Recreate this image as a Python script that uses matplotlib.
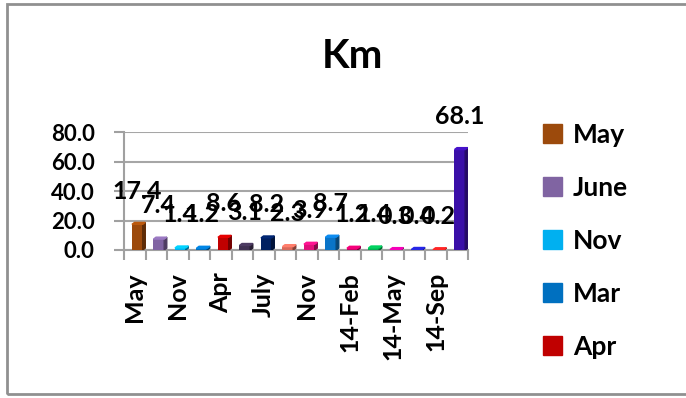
import matplotlib
matplotlib.use("Agg")
import matplotlib.pyplot as plt
from matplotlib.patches import Rectangle, Polygon
import numpy as np

plt.rcParams['font.family'] = ['Lato', 'DejaVu Sans']
plt.rcParams['font.weight'] = 'bold'

# data
months = ["May", "June", "Nov", "Mar", "Apr", "June", "July", "Aug",
          "Nov", "Dec", "14-Feb", "14-Mar", "14-May", "14-Jun", "14-Sep", "14-Oct"]
km = [17.4, 7.4, 1.4, 1.2, 8.6, 3.1, 8.2, 2.3, 3.9, 8.7, 1.2, 1.4, 0.3, 0.4, 0.2, 68.1]
colors = ["#9C4A0C", "#8064A2", "#00B0F0", "#0070C0", "#C00000", "#403152",
          "#002060", "#D9695A", "#E0107A", "#0A74C8", "#CC0066", "#00B050",
          "#CC0099", "#2020C0", "#FF2020", "#3A0FA8"]
legend_n = 5  # only first five entries fit in the legend box
yticks = [0, 20, 40, 60, 80]

W, H = 686, 398
fig = plt.figure(figsize=(W / 100, H / 100), dpi=100)
ax = fig.add_axes([124 / W, 1 - 250 / H, (468 - 124) / W, (250 - 132) / H])

x = np.arange(len(km))
bw = 0.5
bars = ax.bar(x + 0.12, km, width=bw, color=colors, zorder=3)

# fake 3d: darker right side + top cap
dx, dy = 0.12, 1.3
for b, c in zip(bars, colors):
    x0, w, h = b.get_x(), b.get_width(), b.get_height()
    rgb = np.array(matplotlib.colors.to_rgb(c))
    side = Polygon([(x0 + w, 0), (x0 + w + dx, dy), (x0 + w + dx, h + dy), (x0 + w, h)],
                   closed=True, color=rgb * 0.6, zorder=3)
    top = Polygon([(x0, h), (x0 + dx, h + dy), (x0 + w + dx, h + dy), (x0 + w, h)],
                  closed=True, color=np.clip(rgb * 1.2, 0, 1), zorder=3)
    ax.add_patch(side)
    ax.add_patch(top)

for xi, v in zip(x, km):
    ax.annotate(f"{v:.1f}", (xi + 0.12, v), xytext=(0, 24), textcoords="offset points",
                ha="center", va="center", fontsize=18, fontweight="bold", zorder=5)

ax.set_xlim(-0.5, len(km) - 0.5)
ax.set_ylim(0, 80)
ax.set_yticks(yticks)
ax.set_yticklabels([f"{t:.1f}" for t in yticks], fontsize=16, fontweight="bold")
ax.tick_params(axis="y", length=7, width=1.5, color="#A0A0A0", pad=14)

ax.set_xticks(x[::2])
ax.set_xticklabels(months[::2], rotation=90, fontsize=18, fontweight="bold", va="top")
ax.set_xticks(np.arange(-0.5, len(km), 1), minor=True)
ax.tick_params(axis="x", which="major", length=0, pad=16)
ax.tick_params(axis="x", which="minor", length=7, width=1.5, color="#A0A0A0")

ax.grid(axis="y", color="#A6A6A6", lw=1.5, zorder=0)
for s in ["top", "right"]:
    ax.spines[s].set_visible(False)
for s in ["left", "bottom"]:
    ax.spines[s].set_color("#A0A0A0")
    ax.spines[s].set_linewidth(1.5)

fig.text(352 / W, 1 - 57 / H, "Km", ha="center", va="center", fontsize=29, fontweight="bold")

handles = [Rectangle((0, 0), 1, 1, color=c) for c in colors[:legend_n]]
fig.legend(handles, months[:legend_n], loc="upper left",
           bbox_to_anchor=(532 / W, 1 - 112 / H), frameon=False,
           prop={"size": 19, "weight": "bold"}, handlelength=0.75, handleheight=0.75,
           handletextpad=0.4, labelspacing=1.1, borderaxespad=0)

fig.patches.append(Rectangle((7 / W, 4 / H), 1, 1 - 8 / H, transform=fig.transFigure,
                             fill=False, edgecolor="#909090", lw=2))

fig.savefig("out.png", dpi=100)
